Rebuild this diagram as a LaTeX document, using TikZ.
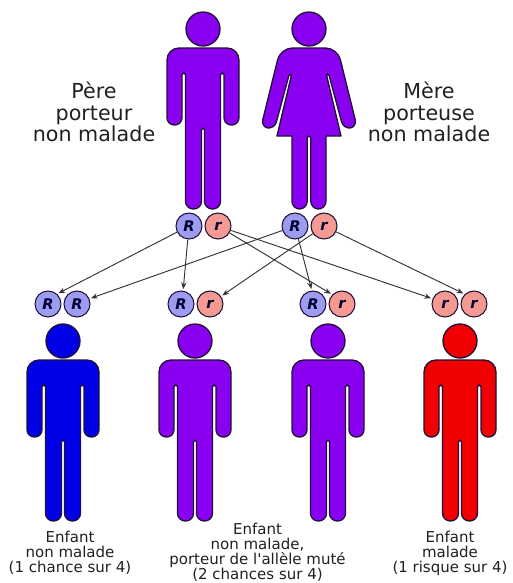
\documentclass[tikz,border=0pt]{standalone}
\usepackage{fontspec}
\usetikzlibrary{arrows.meta}
\setmainfont{DejaVu Sans}
\newfontfamily\childfont{DejaVu Sans}
\definecolor{purplebody}{HTML}{8A00F0}
\definecolor{bluebody}{HTML}{0000E6}
\definecolor{redbody}{HTML}{F00000}
\definecolor{outline}{HTML}{20103A}
\definecolor{allelebig}{HTML}{9C9CF0}
\definecolor{allelesmall}{HTML}{F59A92}
\definecolor{textgrey}{HTML}{202020}
\tikzset{
    figure/.style={draw=outline, line width=1pt, line join=round},
    allele/.style={circle, draw=outline, line width=0.8pt, minimum size=19.5pt, inner sep=0pt,
        font=\fontsize{11}{11}\selectfont\bfseries\itshape, text=black!80!blue},
    big/.style={allele, fill=allelebig},
    small/.style={allele, fill=allelesmall},
    parenttext/.style={align=center, text=textgrey, font=\fontsize{15.5}{16}\selectfont},
    childtext/.style={align=center, text=textgrey, font=\childfont\fontsize{11.25}{11.25}\selectfont},
    gamete/.style={draw=black!80, line width=0.7pt, -{Stealth[length=5pt, width=4pt]}, shorten >=1.2pt},
    man/.pic={
        \draw[figure, fill=#1] (0,0) circle (17);
        \draw[figure, fill=#1] (0,19) [rounded corners=9pt] -- (36,19) [rounded corners=5.4pt] -- (36,96) -- (21,96)
            [rounded corners=1.2pt] -- (21,44) -- (17.5,44) [rounded corners=5.8pt] -- (17.5,180) -- (1.5,180)
            [rounded corners=1.2pt] -- (1.5,99) -- (-1.5,99) [rounded corners=5.8pt] -- (-1.5,180) -- (-17.5,180)
            [rounded corners=1.2pt] -- (-17.5,44) -- (-21,44) [rounded corners=5.4pt] -- (-21,96) -- (-36,96)
            [rounded corners=9pt] -- (-36,19) -- cycle;
    },
    woman/.pic={
        \draw[figure, fill=#1] (0,0) circle (17);
        \draw[figure, fill=#1] (0,19) [rounded corners=9pt] -- (28.5,19) [rounded corners=5.4pt] -- (48,98) -- (34.5,100)
            [rounded corners=1.2pt] -- (19.7,45) -- (17.3,45) [sharp corners] -- (32,107) -- (17,107)
            [rounded corners=5.8pt] -- (17,180) -- (1.8,180) [rounded corners=1.2pt] -- (1.8,107) -- (-1.8,107)
            [rounded corners=5.8pt] -- (-1.8,180) -- (-17,180) [sharp corners] -- (-17,107) -- (-32,107)
            [rounded corners=1.2pt] -- (-17.3,45) -- (-19.7,45) [rounded corners=5.4pt] -- (-34.5,100) -- (-48,98)
            [rounded corners=9pt] -- (-28.5,19) -- cycle;
    },
}
\begin{document}
\begin{tikzpicture}[x=0.75pt, y=-0.75pt]
    \useasboundingbox (0,0) rectangle (512,583);

    % parents
    \pic (father) at (203,29) {man=purplebody};
    \pic (mother) at (309,29) {woman=purplebody};
    \node[parenttext] (fathertext) at (94,112) {Père\\porteur\\non malade};
    \node[parenttext] (mothertext) at (429,112) {Mère\\porteuse\\non malade};

    % alleles of the parents
    \node[big] (fR) at (189,226) {R};
    \node[small] (fr) at (218,226) {r};
    \node[big] (mR) at (295,226) {R};
    \node[small] (mr) at (324,226) {r};

    % alleles of the children
    \node[big] (aR) at (48,304) {R};
    \node[big] (aS) at (77,304) {R};
    \node[big] (bR) at (181,304) {R};
    \node[small] (br) at (210,304) {r};
    \node[big] (cR) at (313,304) {R};
    \node[small] (cr) at (342,304) {r};
    \node[small] (dr) at (445,304) {r};
    \node[small] (ds) at (474,304) {r};

    % transmission
    \draw[gamete] (fR) -- (aR.48);
    \draw[gamete] (mR) -- (aS.23);
    \draw[gamete] (fR) -- (bR.81);
    \draw[gamete] (mr) -- (br.35);
    \draw[gamete] (mR) -- (cR.95);
    \draw[gamete] (fr) -- (cr.136);
    \draw[gamete] (fr) -- (dr.157);
    \draw[gamete] (mr) -- (ds.133);

    % children
    \pic (childa) at (63,341) {man=bluebody};
    \pic (childb) at (195,341) {man=purplebody};
    \pic (childc) at (328,341) {man=purplebody};
    \pic (childd) at (460,341) {man=redbody};
    \node[childtext] (texta) at (70,553) {Enfant\\non malade\\(1 chance sur 4)};
    \node[childtext] (textb) at (257.5,552.5) {Enfant\\non malade,\\porteur de l'allèle muté\\(2 chances sur 4)};
    \node[childtext] (textd) at (450,553) {Enfant\\malade\\(1 risque sur 4)};
\end{tikzpicture}
\end{document}
